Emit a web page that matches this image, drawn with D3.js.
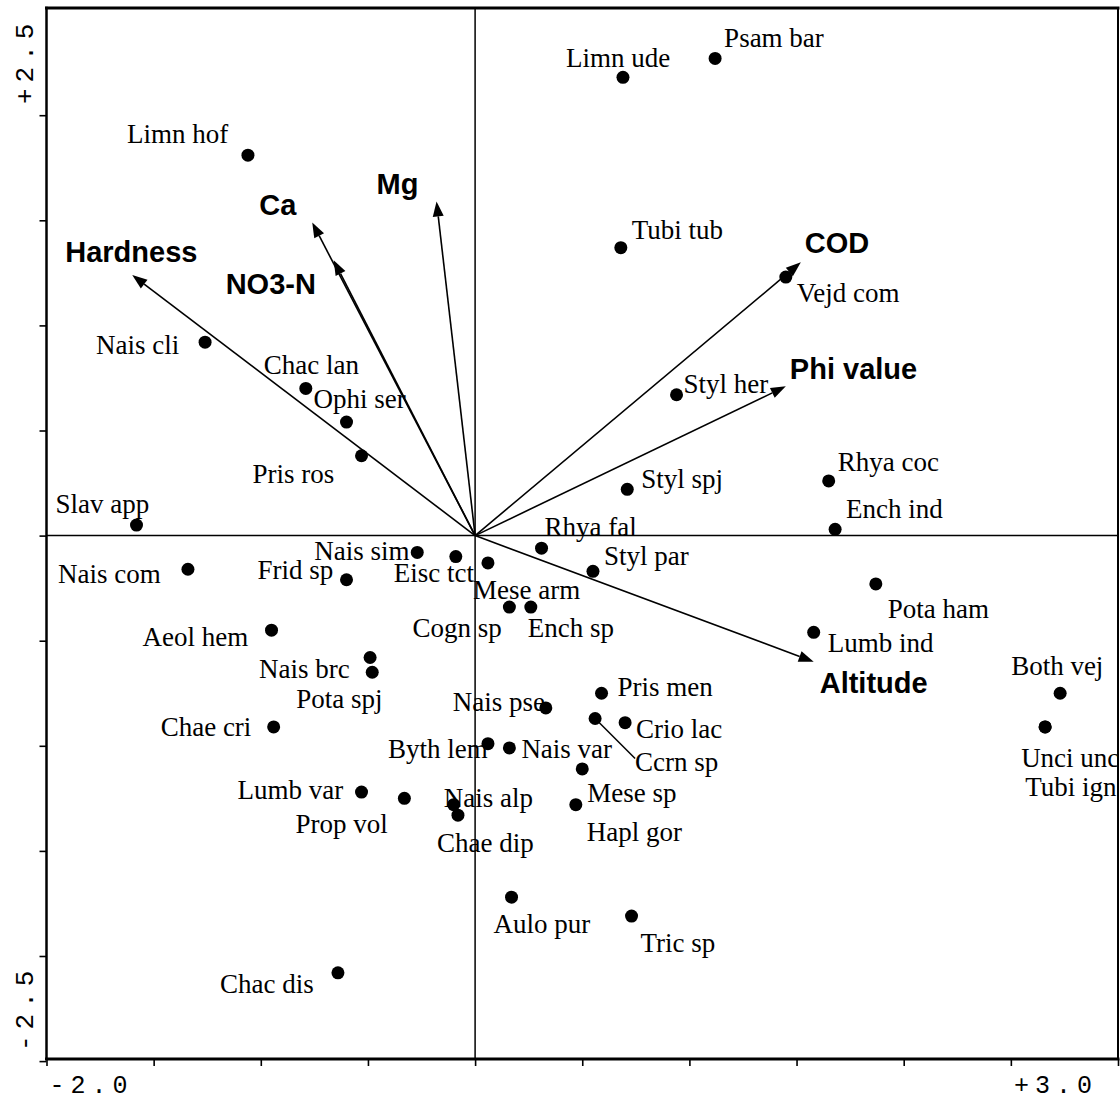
<!DOCTYPE html>
<html>
<head>
<meta charset="utf-8">
<script src="https://cdn.jsdelivr.net/npm/d3@7"></script>
<style>
  body { margin: 0; background: #fff; }
  svg { display: block; }
</style>
</head>
<body>
<script>
// Species scores on ordination axes 1 and 2
const speciesNames = [
  "Limn hof", "Nais cli", "Chac lan", "Ophi ser", "Pris ros", "Slav app",
  "Limn ude", "Psam bar", "Tubi tub", "Vejd com", "Styl her", "Styl spj",
  "Rhya coc", "Ench ind", "Rhya fal", "Nais sim", "Eisc tct", "Mese arm",
  "Cogn sp", "Ench sp", "Styl par", "Frid sp", "Nais com", "Pota ham",
  "Aeol hem", "Lumb ind", "Nais brc", "Pota spj", "Both vej", "Pris men",
  "Nais pse", "Ccrn sp", "Crio lac", "Unci unc", "Tubi ign", "Chae cri",
  "Byth lem", "Nais var", "Mese sp", "Lumb var", "Prop vol", "Hapl gor",
  "Nais alp", "Chae dip", "Aulo pur", "Tric sp", "Chac dis"
];
const speciesAxis1 = [
  -1.06, -1.26, -0.79, -0.60, -0.53, -1.58,
   0.69,  1.12,  0.68,  1.45,  0.94,  0.71,
   1.65,  1.68,  0.31, -0.27, -0.09,  0.06,
   0.16,  0.26,  0.55, -0.60, -1.34,  1.87,
  -0.95,  1.58, -0.49, -0.48,  2.73,  0.59,
   0.33,  0.56,  0.70,  2.66,  2.66, -0.94,
   0.06,  0.16,  0.50, -0.53, -0.33,  0.47,
  -0.10, -0.08,  0.17,  0.73, -0.64
];
const speciesAxis2 = [
   1.81,  0.92,  0.70,  0.54,  0.38,  0.05,
   2.18,  2.27,  1.37,  1.23,  0.67,  0.22,
   0.26,  0.03, -0.06, -0.08, -0.10, -0.13,
  -0.34, -0.34, -0.17, -0.21, -0.16, -0.23,
  -0.45, -0.46, -0.58, -0.65, -0.75, -0.75,
  -0.82, -0.87, -0.89, -0.91, -0.91, -0.91,
  -0.99, -1.01, -1.11, -1.22, -1.25, -1.28,
  -1.28, -1.33, -1.72, -1.81, -2.08
];

// Environmental variable biplot scores
const envNames = ["Hardness", "Ca", "NO3-N", "Mg", "COD", "Phi value", "Altitude"];
const envAxis1 = [-1.60, -0.76, -0.66, -0.18, 1.52, 1.45, 1.58];
const envAxis2 = [ 1.24,  1.49,  1.31,  1.59, 1.30, 0.71, -0.60];

// Axis tick values and end labels
const xTickValues = [-2.0, -1.5, -1.0, -0.5, 0, 0.5, 1.0, 1.5, 2.0, 2.5, 3.0];
const yTickValues = [-2.5, -2.0, -1.5, -1.0, -0.5, 0, 0.5, 1.0, 1.5, 2.0];
const xEndLabels = ["-2.0", "+3.0"];
const yEndLabels = ["+2.5", "-2.5"];

// Label placement (pixel offsets of the label's left edge / mid-height from its point)
const speciesLabelOffset = {
  "Limn hof": [-121, -21], "Nais cli": [-109, 3], "Chac lan": [-42, -23],
  "Ophi ser": [-33, -23], "Pris ros": [-109, 18], "Slav app": [-81, -21],
  "Limn ude": [-57, -19], "Psam bar": [9, -20], "Tubi tub": [11, -18],
  "Vejd com": [11, 16], "Styl her": [7, -11], "Styl spj": [14, -10],
  "Rhya coc": [9, -19], "Ench ind": [11, -20], "Rhya fal": [3, -21],
  "Nais sim": [-103, -1], "Eisc tct": [-62, 16], "Mese arm": [-15, 27],
  "Cogn sp": [-97, 21], "Ench sp": [-3, 21], "Styl par": [11, -15],
  "Frid sp": [-89, -10], "Nais com": [-130, 5], "Pota ham": [12, 25],
  "Aeol hem": [-129, 7], "Lumb ind": [14, 11], "Nais brc": [-111, 11],
  "Pota spj": [-76, 27], "Both vej": [-49, -27], "Pris men": [16, -6],
  "Nais pse": [-93, -6], "Ccrn sp": [40, 44], "Crio lac": [11, 6],
  "Unci unc": [-24, 31], "Tubi ign": [-20, 60], "Chae cri": [-113, 0],
  "Byth lem": [-100, 5], "Nais var": [12, 1], "Mese sp": [5, 24],
  "Lumb var": [-124, -2], "Prop vol": [-109, 26], "Hapl gor": [11, 27],
  "Nais alp": [-10, -7], "Chae dip": [-21, 28], "Aulo pur": [-18, 27],
  "Tric sp": [9, 27], "Chac dis": [-118, 11]
};
const envLabelOffset = {
  "Hardness": [-67, -23], "Ca": [-53, -17], "NO3-N": [-108, 24], "Mg": [-60, -17],
  "COD": [4, -19], "Phi value": [4, -17], "Altitude": [6, 21]
};
const leaderLines = { "Ccrn sp": [40, 40] };

const W = 1120, H = 1100;
const frame = { left: 46.5, right: 1118, top: 8, bottom: 1059 };

const x = d3.scaleLinear().domain([-2.0, 3.0]).range([frame.left, frame.right]);
const y = d3.scaleLinear().domain([-2.49, 2.51]).range([frame.bottom, frame.top]);

const svg = d3.select("body").append("svg")
  .attr("width", W).attr("height", H)
  .attr("viewBox", `0 0 ${W} ${H}`);

svg.append("rect").attr("width", W).attr("height", H).attr("fill", "#fff");

// Ticks (outside the frame)
const gx = svg.append("g").attr("transform", `translate(0,${frame.bottom})`)
  .call(d3.axisBottom(x).tickValues(xTickValues).tickSize(7).tickFormat(""));
const gy = svg.append("g").attr("transform", `translate(${frame.left},0)`)
  .call(d3.axisLeft(y).tickValues(yTickValues).tickSize(7).tickFormat(""));
[gx, gy].forEach(g => {
  g.select(".domain").remove();
  g.selectAll(".tick line").attr("stroke", "#000").attr("stroke-width", 1.6);
});

// Zero lines
svg.append("line")
  .attr("x1", x(0)).attr("x2", x(0)).attr("y1", frame.top).attr("y2", frame.bottom)
  .attr("stroke", "#000").attr("stroke-width", 1.5);
svg.append("line")
  .attr("x1", frame.left).attr("x2", frame.right).attr("y1", y(0)).attr("y2", y(0))
  .attr("stroke", "#000").attr("stroke-width", 1.5);

// Frame
const frameLines = [
  [frame.left, frame.top, frame.right, frame.top, 3],
  [frame.left, frame.bottom, frame.right, frame.bottom, 3],
  [frame.left, frame.top, frame.left, frame.bottom, 2.5],
  [frame.right, frame.top, frame.right, frame.bottom, 2]
];
svg.append("g").selectAll("line").data(frameLines).join("line")
  .attr("x1", d => d[0]).attr("y1", d => d[1])
  .attr("x2", d => d[2]).attr("y2", d => d[3])
  .attr("stroke", "#000").attr("stroke-width", d => d[4])
  .attr("stroke-linecap", "square");

// Axis end labels
const tickFont = "'Liberation Mono', 'DejaVu Sans Mono', monospace";
svg.append("text").attr("x", x(-2.0) + 3).attr("y", 1093)
  .attr("font-family", tickFont).attr("font-size", 25).attr("letter-spacing", 6)
  .text(xEndLabels[0]);
svg.append("text").attr("x", x(3.0) - 20).attr("y", 1093)
  .attr("text-anchor", "end")
  .attr("font-family", tickFont).attr("font-size", 25).attr("letter-spacing", 6)
  .text(xEndLabels[1]);
svg.append("text")
  .attr("transform", `translate(33,104) rotate(-90)`)
  .attr("font-family", tickFont).attr("font-size", 26).attr("letter-spacing", 6)
  .text(yEndLabels[0]);
svg.append("text")
  .attr("transform", `translate(33,1051) rotate(-90)`)
  .attr("font-family", tickFont).attr("font-size", 26).attr("letter-spacing", 6)
  .text(yEndLabels[1]);

// Environmental arrows
const env = envNames.map((n, i) => ({ name: n, a1: envAxis1[i], a2: envAxis2[i] }));
const ga = svg.append("g");
env.forEach(d => {
  const x0 = x(0), y0 = y(0), x1 = x(d.a1), y1 = y(d.a2);
  const ang = Math.atan2(y1 - y0, x1 - x0);
  const len = 15, hw = 5.5;
  const bx = x1 - len * Math.cos(ang), by = y1 - len * Math.sin(ang);
  ga.append("line")
    .attr("x1", x0).attr("y1", y0).attr("x2", bx).attr("y2", by)
    .attr("stroke", "#000").attr("stroke-width", 1.6);
  const pts = [
    [x1, y1],
    [bx + hw * Math.sin(ang), by - hw * Math.cos(ang)],
    [bx - hw * Math.sin(ang), by + hw * Math.cos(ang)]
  ];
  ga.append("polygon").attr("points", pts.map(p => p.join(",")).join(" ")).attr("fill", "#000");
  const off = envLabelOffset[d.name];
  ga.append("text")
    .attr("x", x1 + off[0]).attr("y", y1 + off[1] + 10)
    .attr("font-family", "'Liberation Sans', Arial, sans-serif")
    .attr("font-weight", "bold").attr("font-size", 29)
    .text(d.name);
});

// Species points and labels
const species = speciesNames.map((n, i) => ({ name: n, a1: speciesAxis1[i], a2: speciesAxis2[i] }));
const gs = svg.append("g");
species.forEach(d => {
  const px = x(d.a1), py = y(d.a2);
  if (leaderLines[d.name]) {
    const l = leaderLines[d.name];
    gs.append("line").attr("x1", px).attr("y1", py)
      .attr("x2", px + l[0]).attr("y2", py + l[1])
      .attr("stroke", "#000").attr("stroke-width", 1.5);
  }
  gs.append("circle").attr("cx", px).attr("cy", py).attr("r", 6.5).attr("fill", "#000");
  const off = speciesLabelOffset[d.name];
  gs.append("text")
    .attr("x", px + off[0]).attr("y", py + off[1] + 9)
    .attr("font-family", "'Liberation Serif', 'Times New Roman', serif")
    .attr("font-size", 27)
    .text(d.name);
});
</script>
</body>
</html>
